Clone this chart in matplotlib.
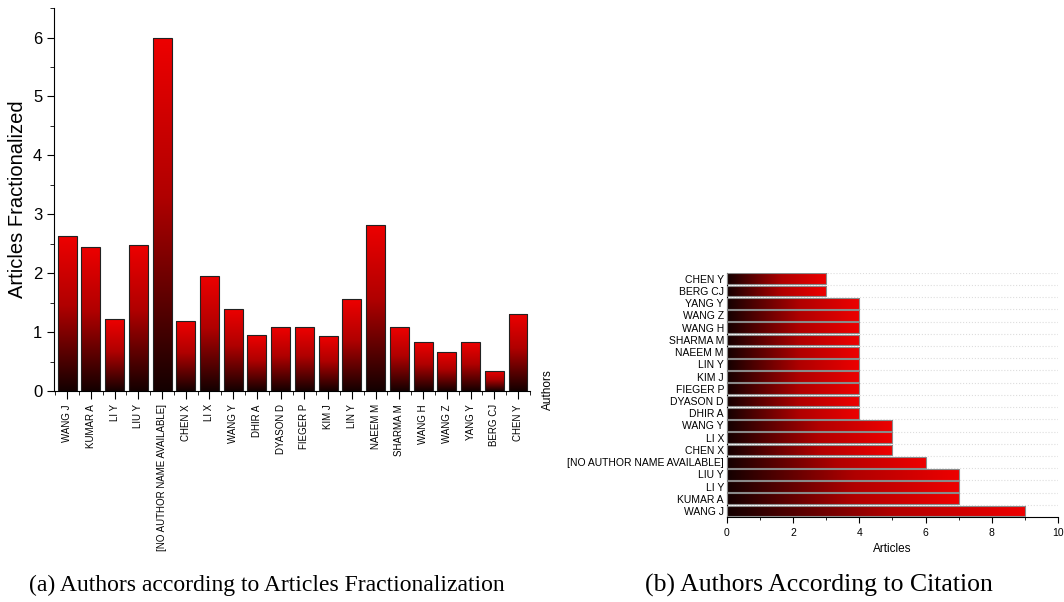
import numpy as np
import matplotlib
matplotlib.use('Agg')
import matplotlib.pyplot as plt
from matplotlib.colors import LinearSegmentedColormap
from matplotlib.ticker import MultipleLocator

plt.rcParams['font.family'] = ['Liberation Sans', 'DejaVu Sans']

frac_authors = ['WANG J', 'KUMAR A', 'LI Y', 'LIU Y', '[NO AUTHOR NAME AVAILABLE]', 'CHEN X',
                'LI X', 'WANG Y', 'DHIR A', 'DYASON D', 'FIEGER P', 'KIM J', 'LIN Y', 'NAEEM M',
                'SHARMA M', 'WANG H', 'WANG Z', 'YANG Y', 'BERG CJ', 'CHEN Y']
frac_values = [2.63, 2.45, 1.22, 2.48, 6.0, 1.18, 1.95, 1.40, 0.95, 1.08, 1.08, 0.93, 1.56,
               2.82, 1.08, 0.83, 0.67, 0.83, 0.34, 1.31]

cit_authors = ['WANG J', 'KUMAR A', 'LI Y', 'LIU Y', '[NO AUTHOR NAME AVAILABLE]', 'CHEN X',
               'LI X', 'WANG Y', 'DHIR A', 'DYASON D', 'FIEGER P', 'KIM J', 'LIN Y', 'NAEEM M',
               'SHARMA M', 'WANG H', 'WANG Z', 'YANG Y', 'BERG CJ', 'CHEN Y']
cit_values = [9, 7, 7, 7, 6, 5, 5, 5, 4, 4, 4, 4, 4, 4, 4, 4, 4, 4, 3, 3]

cmap = LinearSegmentedColormap.from_list('redfade', [(0, '#140000'), (0.55, '#b00000'), (1, '#ee0000')])
grad = np.linspace(0, 1, 256)

fig = plt.figure(figsize=(10.64, 6.02), dpi=100)

# (a) vertical bars
ax1 = fig.add_axes([0.0508, 0.3505, 0.4472, 0.636])
x = np.arange(len(frac_authors))
bars = ax1.bar(x, frac_values, width=0.8, facecolor='none', edgecolor='#222222', linewidth=0.8, zorder=3)
for b in bars:
    x0, w, h = b.get_x(), b.get_width(), b.get_height()
    im = ax1.imshow(grad[:, None], extent=[x0, x0 + w, 0, h], origin='lower', cmap=cmap,
                    aspect='auto', zorder=2)
    im.set_clip_path(b)
ax1.set_xlim(-0.55, 19.5)
ax1.set_ylim(0, 6.5)
ax1.set_xticks(x)
ax1.set_xticklabels(frac_authors, rotation=90, fontsize=7)
ax1.xaxis.set_minor_locator(MultipleLocator(1, offset=0.5))
ax1.yaxis.set_major_locator(MultipleLocator(1))
ax1.yaxis.set_minor_locator(MultipleLocator(0.5))
ax1.tick_params(axis='y', labelsize=12, direction='out', length=5)
ax1.tick_params(axis='y', which='minor', length=3)
ax1.tick_params(axis='x', direction='out', length=6)
ax1.tick_params(axis='x', which='minor', length=3)
ax1.set_ylabel('Articles Fractionalized', fontsize=14.5)
ax1.spines['top'].set_visible(False)
ax1.spines['right'].set_visible(False)

# (b) horizontal bars
ax2 = fig.add_axes([0.683, 0.141, 0.3114, 0.406])
y = np.arange(len(cit_authors))
hbars = ax2.barh(y, cit_values, height=0.88, facecolor='none', edgecolor='#8a8a8a', linewidth=0.8, zorder=3)
for b in hbars:
    y0, w, h = b.get_y(), b.get_width(), b.get_height()
    im = ax2.imshow(grad[None, :], extent=[0, w, y0, y0 + h], origin='lower', cmap=cmap,
                    aspect='auto', zorder=2)
    im.set_clip_path(b)
ax2.set_xlim(0, 10)
ax2.set_ylim(-0.5, 19.5)
ax2.set_yticks(y)
ax2.set_yticklabels(cit_authors, fontsize=7.5)
ax2.yaxis.set_minor_locator(MultipleLocator(1, offset=0.5))
ax2.grid(axis='y', which='minor', color='#dddddd', linestyle=':', linewidth=0.8, zorder=0)
ax2.tick_params(axis='y', which='both', length=0, pad=2)
ax2.xaxis.set_major_locator(MultipleLocator(2))
ax2.xaxis.set_minor_locator(MultipleLocator(1))
ax2.tick_params(axis='x', labelsize=7.5, direction='out', length=4)
ax2.tick_params(axis='x', which='minor', length=2)
ax2.set_xlabel('Articles', fontsize=8.5)
ax2.spines['top'].set_visible(False)
ax2.spines['right'].set_visible(False)
fig.text(0.515, 0.353, 'Authors', rotation=90, fontsize=8.5, ha='center', va='center')

fig.text(0.251, 0.018, '(a) Authors according to Articles Fractionalization', fontsize=17,
         family='Liberation Serif', ha='center', va='baseline')
fig.text(0.77, 0.018, '(b) Authors According to Citation', fontsize=18.5,
         family='Liberation Serif', ha='center', va='baseline')

fig.savefig('out.png', dpi=100)
